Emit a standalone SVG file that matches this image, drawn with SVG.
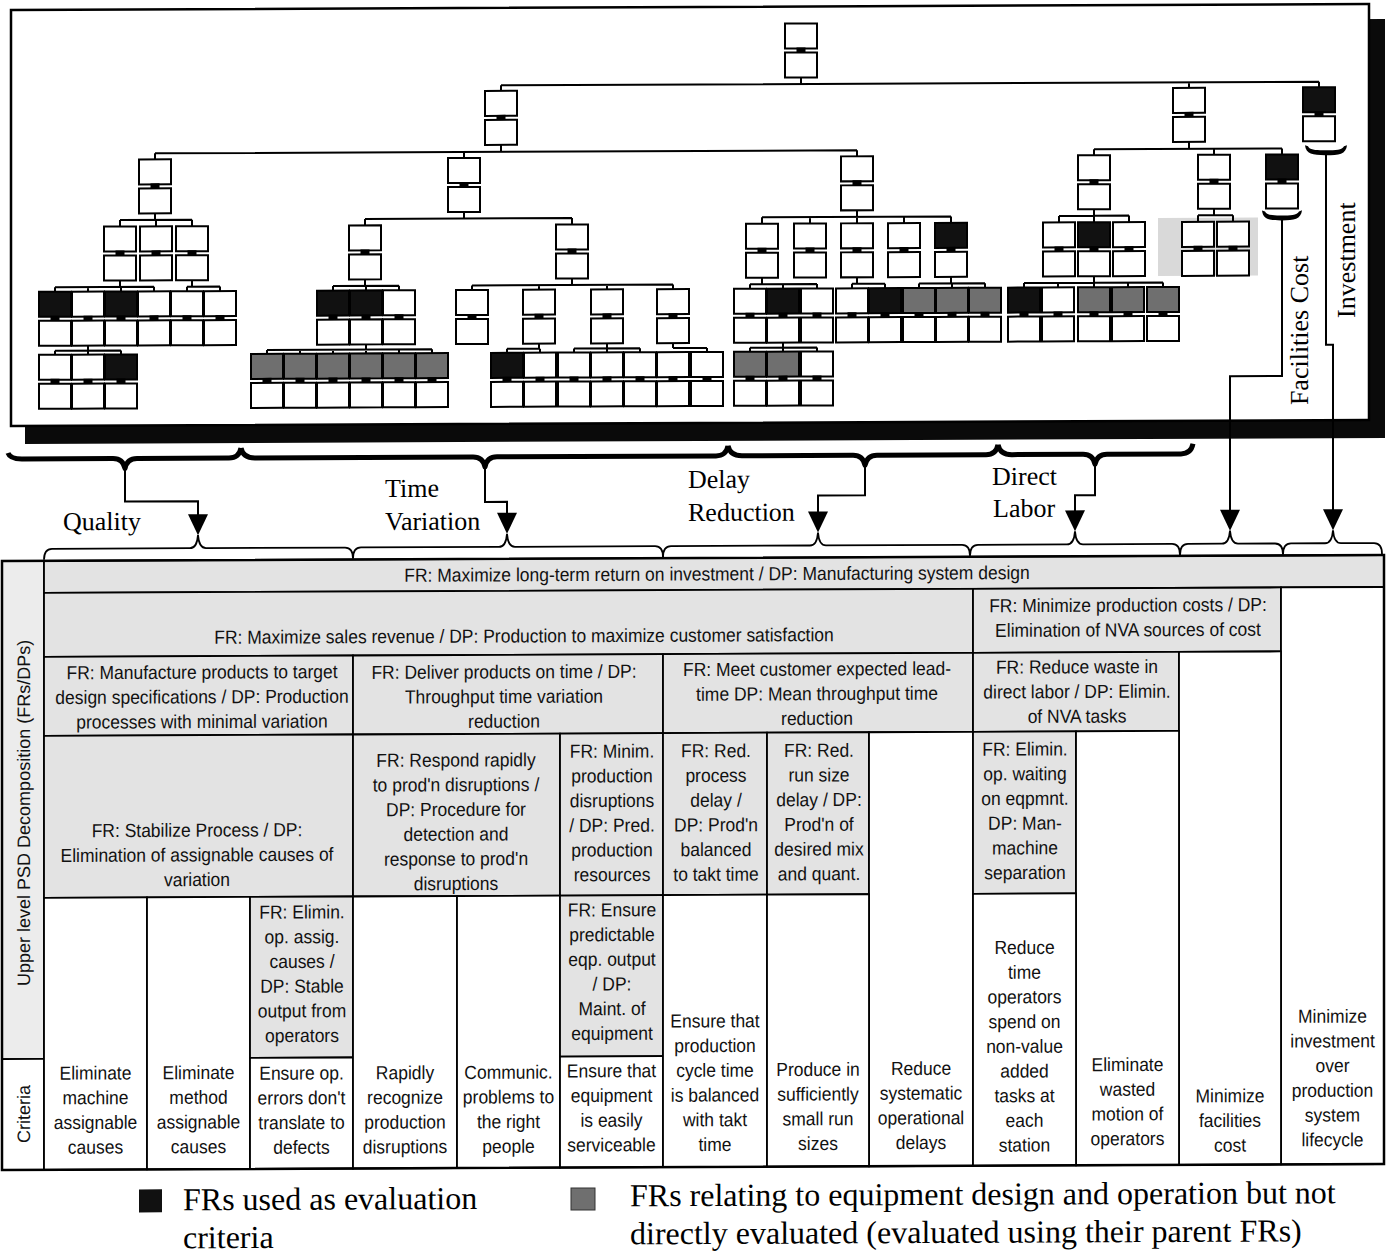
<svg xmlns="http://www.w3.org/2000/svg" xmlns:xlink="http://www.w3.org/1999/xlink" width="1395" height="1256" viewBox="0 0 1395 1256">
  <style>
    .b{fill:#fff;stroke:#000;stroke-width:2}
    .fk{fill:#111}
    .fg{fill:#6f6f6f}
    .k{fill:#000}
    .ln{fill:none;stroke:#000;stroke-width:2}
    .br{fill:none;stroke:#000;stroke-width:5;stroke-linejoin:round}
    .bl{fill:none;stroke:#000;stroke-width:1.8}
    .cg{fill:#e3e3e3;stroke:#000;stroke-width:1.8}
    .cl{fill:#ececec;stroke:#000;stroke-width:1.8}
    .cw{fill:#fff;stroke:#000;stroke-width:1.8}
    .t{font-family:'Liberation Sans',Arial,sans-serif;font-size:19px;fill:#111;text-anchor:middle}
    .side{font-family:'Liberation Sans',Arial,sans-serif;font-size:18px;fill:#111;text-anchor:middle}
    .lbl{font-family:'Liberation Serif','Times New Roman',serif;font-size:26px;fill:#000}
    .leg{font-family:'Liberation Serif','Times New Roman',serif;font-size:32px;fill:#000}
  </style>
  <defs>
    <!-- FR box over DP box, joined by a short bar -->
    <g id="nw"><rect class="b" x="-16" y="0" width="32" height="25"/><rect class="k" x="-4.5" y="24" width="9" height="6"/><rect class="b" x="-16" y="29" width="32" height="25"/></g>
    <g id="nk"><rect class="b fk" x="-16" y="0" width="32" height="25"/><rect class="k" x="-4.5" y="24" width="9" height="6"/><rect class="b" x="-16" y="29" width="32" height="25"/></g>
    <g id="ng"><rect class="b fg" x="-16" y="0" width="32" height="25"/><rect class="k" x="-4.5" y="24" width="9" height="6"/><rect class="b" x="-16" y="29" width="32" height="25"/></g>
  </defs>
  <rect x="0" y="0" width="1395" height="1256" fill="#fff"/>
  <g transform="matrix(1 -0.00436 0 1 0 3.04)">
    <!-- hierarchy panel with drop shadow -->
    <rect x="25" y="22" width="1360" height="419" fill="#0a0a0a"/>
    <rect x="11" y="7" width="1358" height="416" fill="#fff" stroke="#000" stroke-width="2.5"/>
    <rect x="1158" y="220" width="100" height="58" fill="#d9d9d9"/>

    <g id="connectors">
      <path class="ln" d="M801,78V84.5M501,84.5H1319M501,84.5V90M1189,84.5V90M1319,84.5V90"/>
      <path class="ln" d="M501,144V151M155,151H857M155,151V157M464,151V157M857,151V157"/>
      <path class="ln" d="M1189,144V151M1094,151H1282M1094,151V157M1214,151V157M1282,151V157"/>
      <path class="ln" d="M155,211V217.5M120,217.5H192M120,217.5V224M156,217.5V224M192,217.5V224"/>
      <path class="ln" d="M464,211V217.5M365,217.5H572M365,217.5V224M572,217.5V224"/>
      <path class="ln" d="M857,211V217.5M762,217.5H951M762,217.5V224M810,217.5V224M857,217.5V224M904,217.5V224M951,217.5V224"/>
      <path class="ln" d="M1094,211V217.5M1059,217.5H1129M1059,217.5V224M1094,217.5V224M1129,217.5V224"/>
      <path class="ln" d="M1214,211V217.5M1198,217.5H1233M1198,217.5V224M1233,217.5V224"/>
      <path class="ln" d="M120,278V284.5M55,284.5H154M55,284.5V289M88,284.5V289M121,284.5V289M154,284.5V289"/>
      <path class="ln" d="M192,278V284.5M187,284.5H220M187,284.5V289M220,284.5V289"/>
      <path class="ln" d="M365,278V284.5M333,284.5H399M333,284.5V289M366,284.5V289M399,284.5V289"/>
      <path class="ln" d="M572,278V284.5M472,284.5H673M472,284.5V289M539,284.5V289M607,284.5V289M673,284.5V289"/>
      <path class="ln" d="M762,278V284.5M750,284.5H817M750,284.5V289M783,284.5V289M817,284.5V289"/>
      <path class="ln" d="M857,278V284.5M852,284.5H885M852,284.5V289M885,284.5V289"/>
      <path class="ln" d="M951,278V284.5M919,284.5H985M919,284.5V289M952,284.5V289M985,284.5V289"/>
      <path class="ln" d="M1094,278V284.5M1024,284.5H1163M1024,284.5V289M1058,284.5V289M1094,284.5V289M1128,284.5V289M1163,284.5V289"/>
      <path class="ln" d="M88,343V348M55,348H121M55,348V352M88,348V352M121,348V352"/>
      <path class="ln" d="M366,343V348M267,348H432M267,348V352M300,348V352M333,348V352M366,348V352M399,348V352M432,348V352"/>
      <path class="ln" d="M539,343V348M507,348H540M507,348V352M540,348V352"/>
      <path class="ln" d="M607,343V348M574,348H640M574,348V352M607,348V352M640,348V352"/>
      <path class="ln" d="M673,343V348M673,348H707M707,348V352"/>
      <path class="ln" d="M783,343V348M750,348H817M750,348V352M783,348V352M817,348V352"/>
      <!-- cost branches leaving the panel -->
      <path class="k" d="M1262,213C1263,222 1270,223 1282,223C1294,223 1301,222 1302,213L1299,214C1297,218 1290,218 1282,218C1274,218 1267,218 1265,214Z"/>
      <path class="k" d="M1305,148C1306,157 1313,158 1326,158C1339,158 1346,157 1347,148L1344,149C1342,153 1336,153 1326,153C1316,153 1310,153 1308,149Z"/>
      <path class="ln" d="M1282,222V378.5H1230V514"/>
      <path class="ln" d="M1326,157V347.5H1333V514"/>
      <!-- group braces -->
      <path class="br" d="M8,450Q10,456 22,456L113,456Q123,456 125,466Q127,456 137,456L229,456Q239,456 241,446"/>
      <path class="br" d="M241,446Q243,456 255,456L473,456Q483,456 485,466Q487,456 497,456L716,456Q726,456 728,446"/>
      <path class="br" d="M728,446Q730,456 742,456L853,456Q863,456 865,466Q867,456 877,456L986,456Q996,456 998,446"/>
      <path class="br" d="M998,446Q1000,456 1012,456L1083,456Q1093,456 1095,466Q1097,456 1107,456L1181,456Q1191,456 1193,446"/>
      <path class="ln" d="M125,466V499H198V514"/>
      <path class="ln" d="M485,466V501H507V514"/>
      <path class="ln" d="M865,466V496H818V514"/>
      <path class="ln" d="M1095,466V497H1075V514"/>
      <polygon class="k" points="188,512 208,512 198,533"/>
      <polygon class="k" points="497,512 517,512 507,533"/>
      <polygon class="k" points="808,512 828,512 818,533"/>
      <polygon class="k" points="1065,512 1085,512 1075,533"/>
      <polygon class="k" points="1220,512 1240,512 1230,533"/>
      <polygon class="k" points="1323,512 1343,512 1333,533"/>
      <path class="bl" d="M44,557Q44,546 52,546L190,546Q197,546 198,533Q199,546 206,546L345,546Q353,546 353,557"/>
      <path class="bl" d="M353,557Q353,546 361,546L499,546Q506,546 507,533Q508,546 515,546L655,546Q663,546 663,557"/>
      <path class="bl" d="M663,557Q663,546 671,546L810,546Q817,546 818,533Q819,546 826,546L962,546Q970,546 970,557"/>
      <path class="bl" d="M970,557Q970,546 978,546L1067,546Q1074,546 1075,533Q1076,546 1083,546L1172,546Q1180,546 1180,557"/>
      <path class="bl" d="M1180,557Q1180,546 1188,546L1222,546Q1229,546 1230,533Q1231,546 1238,546L1275,546Q1283,546 1283,557"/>
      <path class="bl" d="M1283,557Q1283,546 1291,546L1325,546Q1332,546 1333,533Q1334,546 1341,546L1374,546Q1382,546 1382,557"/>
    </g>

    <!-- functional requirement / design parameter nodes -->
    <g id="n-root" transform="translate(801 24)"><use href="#nw"/></g>
    <g id="n-sales" transform="translate(501 90)"><use href="#nw"/></g>
    <g id="n-cost" transform="translate(1189 90)"><use href="#nw"/></g>
    <g id="n-invest" transform="translate(1319 90)"><use href="#nk"/></g>
    <g id="n-quality" transform="translate(155 157)"><use href="#nw"/></g>
    <g id="n-timevar" transform="translate(464 157)"><use href="#nw"/></g>
    <g id="n-delay" transform="translate(857 157)"><use href="#nw"/></g>
    <g id="n-labor" transform="translate(1094 157)"><use href="#nw"/></g>
    <g id="n-waste" transform="translate(1214 157)"><use href="#nw"/></g>
    <g id="n-facil" transform="translate(1282 157)"><use href="#nk"/></g>
    <g id="n-q1" transform="translate(120 224)"><use href="#nw"/></g>
    <g id="n-q2" transform="translate(156 224)"><use href="#nw"/></g>
    <g id="n-q3" transform="translate(192 224)"><use href="#nw"/></g>
    <g id="n-t1" transform="translate(365 224)"><use href="#nw"/></g>
    <g id="n-t2" transform="translate(572 224)"><use href="#nw"/></g>
    <g id="n-d1" transform="translate(762 224)"><use href="#nw"/></g>
    <g id="n-d2" transform="translate(810 224)"><use href="#nw"/></g>
    <g id="n-d3" transform="translate(857 224)"><use href="#nw"/></g>
    <g id="n-d4" transform="translate(904 224)"><use href="#nw"/></g>
    <g id="n-d5" transform="translate(951 224)"><use href="#nk"/></g>
    <g id="n-l1" transform="translate(1059 224)"><use href="#nw"/></g>
    <g id="n-l2" transform="translate(1094 224)"><use href="#nk"/></g>
    <g id="n-l3" transform="translate(1129 224)"><use href="#nw"/></g>
    <g id="n-w1" transform="translate(1198 224)"><use href="#nw"/></g>
    <g id="n-w2" transform="translate(1233 224)"><use href="#nw"/></g>
    <g id="n-q11" transform="translate(55 289)"><use href="#nk"/></g>
    <g id="n-q12" transform="translate(88 289)"><use href="#nw"/></g>
    <g id="n-q13" transform="translate(121 289)"><use href="#nk"/></g>
    <g id="n-q14" transform="translate(154 289)"><use href="#nw"/></g>
    <g id="n-q31" transform="translate(187 289)"><use href="#nw"/></g>
    <g id="n-q32" transform="translate(220 289)"><use href="#nw"/></g>
    <g id="n-t11" transform="translate(333 289)"><use href="#nk"/></g>
    <g id="n-t12" transform="translate(366 289)"><use href="#nk"/></g>
    <g id="n-t13" transform="translate(399 289)"><use href="#nw"/></g>
    <g id="n-t21" transform="translate(472 289)"><use href="#nw"/></g>
    <g id="n-t22" transform="translate(539 289)"><use href="#nw"/></g>
    <g id="n-t23" transform="translate(607 289)"><use href="#nw"/></g>
    <g id="n-t24" transform="translate(673 289)"><use href="#nw"/></g>
    <g id="n-d11" transform="translate(750 289)"><use href="#nw"/></g>
    <g id="n-d12" transform="translate(783 289)"><use href="#nk"/></g>
    <g id="n-d13" transform="translate(817 289)"><use href="#nw"/></g>
    <g id="n-d31" transform="translate(852 289)"><use href="#nw"/></g>
    <g id="n-d32" transform="translate(885 289)"><use href="#nk"/></g>
    <g id="n-d51" transform="translate(919 289)"><use href="#ng"/></g>
    <g id="n-d52" transform="translate(952 289)"><use href="#ng"/></g>
    <g id="n-d53" transform="translate(985 289)"><use href="#ng"/></g>
    <g id="n-l21" transform="translate(1024 289)"><use href="#nk"/></g>
    <g id="n-l22" transform="translate(1058 289)"><use href="#nw"/></g>
    <g id="n-l23" transform="translate(1094 289)"><use href="#ng"/></g>
    <g id="n-l24" transform="translate(1128 289)"><use href="#ng"/></g>
    <g id="n-l25" transform="translate(1163 289)"><use href="#ng"/></g>
    <g id="n-q121" transform="translate(55 352)"><use href="#nw"/></g>
    <g id="n-q122" transform="translate(88 352)"><use href="#nw"/></g>
    <g id="n-q123" transform="translate(121 352)"><use href="#nk"/></g>
    <g id="n-t121" transform="translate(267 352)"><use href="#ng"/></g>
    <g id="n-t122" transform="translate(300 352)"><use href="#ng"/></g>
    <g id="n-t123" transform="translate(333 352)"><use href="#ng"/></g>
    <g id="n-t124" transform="translate(366 352)"><use href="#ng"/></g>
    <g id="n-t125" transform="translate(399 352)"><use href="#ng"/></g>
    <g id="n-t126" transform="translate(432 352)"><use href="#ng"/></g>
    <g id="n-t221" transform="translate(507 352)"><use href="#nk"/></g>
    <g id="n-t222" transform="translate(540 352)"><use href="#nw"/></g>
    <g id="n-t231" transform="translate(574 352)"><use href="#nw"/></g>
    <g id="n-t232" transform="translate(607 352)"><use href="#nw"/></g>
    <g id="n-t233" transform="translate(640 352)"><use href="#nw"/></g>
    <g id="n-t241" transform="translate(673 352)"><use href="#nw"/></g>
    <g id="n-t242" transform="translate(707 352)"><use href="#nw"/></g>
    <g id="n-d121" transform="translate(750 352)"><use href="#ng"/></g>
    <g id="n-d122" transform="translate(783 352)"><use href="#ng"/></g>
    <g id="n-d123" transform="translate(817 352)"><use href="#nw"/></g>

    <!-- branch labels -->
    <g id="labels">
      <text class="lbl" transform="translate(1308 333) rotate(-90)" text-anchor="middle">Facilities Cost</text>
      <text class="lbl" transform="translate(1355 263) rotate(-90)" text-anchor="middle">Investment</text>
      <text class="lbl" x="63" y="527.5">Quality</text>
      <text class="lbl" x="385" y="495.7">Time</text>
      <text class="lbl" x="385" y="528.7">Variation</text>
      <text class="lbl" x="688" y="488">Delay</text>
      <text class="lbl" x="688" y="521">Reduction</text>
      <text class="lbl" x="992" y="486.3">Direct</text>
      <text class="lbl" x="993" y="518.3">Labor</text>
    </g>

    <!-- decomposition table -->
    <g id="table">
      <rect class="cl" x="2" y="558" width="42" height="498"/>
      <rect class="cw" x="2" y="1056" width="42" height="111"/>
      <rect class="cg" x="44" y="558" width="1340" height="32"/>
      <rect class="cg" x="44" y="590" width="929" height="64"/>
      <rect class="cg" x="973" y="590" width="308" height="64"/>
      <rect class="cw" x="1281" y="590" width="103" height="577"/>
      <rect class="cg" x="44" y="654" width="309" height="79"/>
      <rect class="cg" x="353" y="654" width="310" height="79"/>
      <rect class="cg" x="663" y="654" width="310" height="79"/>
      <rect class="cg" x="973" y="654" width="206" height="79"/>
      <rect class="cw" x="1179" y="654" width="102" height="513"/>
      <rect class="cg" x="44" y="733" width="309" height="162"/>
      <rect class="cg" x="353" y="733" width="207" height="162"/>
      <rect class="cg" x="560" y="733" width="103" height="162"/>
      <rect class="cg" x="663" y="733" width="104" height="162"/>
      <rect class="cg" x="767" y="733" width="102" height="162"/>
      <rect class="cw" x="869" y="733" width="104" height="434"/>
      <rect class="cg" x="973" y="733" width="103" height="162"/>
      <rect class="cw" x="1076" y="733" width="103" height="434"/>
      <rect class="cw" x="44" y="895" width="103" height="272"/>
      <rect class="cw" x="147" y="895" width="103" height="272"/>
      <rect class="cg" x="250" y="895" width="103" height="161"/>
      <rect class="cw" x="250" y="1056" width="103" height="111"/>
      <rect class="cw" x="353" y="895" width="104" height="272"/>
      <rect class="cw" x="457" y="895" width="103" height="272"/>
      <rect class="cg" x="560" y="895" width="103" height="161"/>
      <rect class="cw" x="560" y="1056" width="103" height="111"/>
      <rect class="cw" x="663" y="895" width="104" height="272"/>
      <rect class="cw" x="767" y="895" width="102" height="272"/>
      <rect class="cw" x="973" y="895" width="103" height="272"/>
      <rect x="2" y="558" width="1382" height="609" fill="none" stroke="#000" stroke-width="2.5"/>

      <text class="side" transform="translate(30 810) rotate(-90)">Upper level PSD Decomposition (FRs/DPs)</text>
      <text class="side" transform="translate(30 1111) rotate(-90)">Criteria</text>

      <!-- condensed cell text: each block is placed by translate, then narrowed -->
      <text class="t" transform="translate(717 0) scale(0.92 1)" x="0" y="580.5">FR: Maximize long-term return on investment / DP: Manufacturing system design</text>
      <text class="t" transform="translate(524 0) scale(0.92 1)" x="0" y="641.7">FR: Maximize sales revenue / DP: Production to maximize customer satisfaction</text>
      <text class="t" transform="translate(1128 0) scale(0.92 1)" y="613.5"><tspan x="0">FR: Minimize production costs / DP:</tspan><tspan x="0" dy="24.7">Elimination of NVA sources of cost</tspan></text>

      <text class="t" transform="translate(202 0) scale(0.92 1)" y="676.5"><tspan x="0">FR: Manufacture products to target</tspan><tspan x="0" dy="24.7">design specifications / DP: Production</tspan><tspan x="0" dy="24.7">processes with minimal variation</tspan></text>
      <text class="t" transform="translate(504 0) scale(0.92 1)" y="677.5"><tspan x="0">FR: Deliver products on time / DP:</tspan><tspan x="0" dy="24.7">Throughput time variation</tspan><tspan x="0" dy="24.7">reduction</tspan></text>
      <text class="t" transform="translate(817 0) scale(0.92 1)" y="676"><tspan x="0">FR: Meet customer expected lead-</tspan><tspan x="0" dy="24.7">time DP: Mean throughput time</tspan><tspan x="0" dy="24.7">reduction</tspan></text>
      <text class="t" transform="translate(1077 0) scale(0.92 1)" y="675"><tspan x="0">FR: Reduce waste in</tspan><tspan x="0" dy="24.7">direct labor / DP: Elimin.</tspan><tspan x="0" dy="24.7">of NVA tasks</tspan></text>

      <text class="t" transform="translate(197 0) scale(0.92 1)" y="834.5"><tspan x="0">FR: Stabilize Process / DP:</tspan><tspan x="0" dy="24.7">Elimination of assignable causes of</tspan><tspan x="0" dy="24.7">variation</tspan></text>
      <text class="t" transform="translate(456 0) scale(0.92 1)" y="765.5"><tspan x="0">FR: Respond rapidly</tspan><tspan x="0" dy="24.7">to prod'n disruptions /</tspan><tspan x="0" dy="24.7">DP: Procedure for</tspan><tspan x="0" dy="24.7">detection and</tspan><tspan x="0" dy="24.7">response to prod'n</tspan><tspan x="0" dy="24.7">disruptions</tspan></text>
      <text class="t" transform="translate(612 0) scale(0.92 1)" y="757.3"><tspan x="0">FR: Minim.</tspan><tspan x="0" dy="24.7">production</tspan><tspan x="0" dy="24.7">disruptions</tspan><tspan x="0" dy="24.7">/ DP: Pred.</tspan><tspan x="0" dy="24.7">production</tspan><tspan x="0" dy="24.7">resources</tspan></text>
      <text class="t" transform="translate(716 0) scale(0.92 1)" y="757.3"><tspan x="0">FR: Red.</tspan><tspan x="0" dy="24.7">process</tspan><tspan x="0" dy="24.7">delay  /</tspan><tspan x="0" dy="24.7">DP: Prod'n</tspan><tspan x="0" dy="24.7">balanced</tspan><tspan x="0" dy="24.7">to takt time</tspan></text>
      <text class="t" transform="translate(819 0) scale(0.92 1)" y="757.3"><tspan x="0">FR: Red.</tspan><tspan x="0" dy="24.7">run size</tspan><tspan x="0" dy="24.7">delay / DP:</tspan><tspan x="0" dy="24.7">Prod'n of</tspan><tspan x="0" dy="24.7">desired mix</tspan><tspan x="0" dy="24.7">and quant.</tspan></text>
      <text class="t" transform="translate(1025 0) scale(0.92 1)" y="757"><tspan x="0">FR: Elimin.</tspan><tspan x="0" dy="24.7">op. waiting</tspan><tspan x="0" dy="24.7">on eqpmnt.</tspan><tspan x="0" dy="24.7">DP: Man-</tspan><tspan x="0" dy="24.7">machine</tspan><tspan x="0" dy="24.7">separation</tspan></text>

      <text class="t" transform="translate(302 0) scale(0.92 1)" y="916.8"><tspan x="0">FR: Elimin.</tspan><tspan x="0" dy="24.7">op. assig.</tspan><tspan x="0" dy="24.7">causes /</tspan><tspan x="0" dy="24.7">DP: Stable</tspan><tspan x="0" dy="24.7">output from</tspan><tspan x="0" dy="24.7">operators</tspan></text>
      <text class="t" transform="translate(612 0) scale(0.92 1)" y="916"><tspan x="0">FR: Ensure</tspan><tspan x="0" dy="24.7">predictable</tspan><tspan x="0" dy="24.7">eqp. output</tspan><tspan x="0" dy="24.7">/ DP:</tspan><tspan x="0" dy="24.7">Maint. of</tspan><tspan x="0" dy="24.7">equipment</tspan></text>

      <!-- evaluation criteria -->
      <text class="t" transform="translate(95.5 0) scale(0.92 1)" y="1076.9"><tspan x="0">Eliminate</tspan><tspan x="0" dy="24.7">machine</tspan><tspan x="0" dy="24.7">assignable</tspan><tspan x="0" dy="24.7">causes</tspan></text>
      <text class="t" transform="translate(198.5 0) scale(0.92 1)" y="1076.9"><tspan x="0">Eliminate</tspan><tspan x="0" dy="24.7">method</tspan><tspan x="0" dy="24.7">assignable</tspan><tspan x="0" dy="24.7">causes</tspan></text>
      <text class="t" transform="translate(301.5 0) scale(0.92 1)" y="1077.9"><tspan x="0">Ensure op.</tspan><tspan x="0" dy="24.7">errors don't</tspan><tspan x="0" dy="24.7">translate to</tspan><tspan x="0" dy="24.7">defects</tspan></text>
      <text class="t" transform="translate(405 0) scale(0.92 1)" y="1077.9"><tspan x="0">Rapidly</tspan><tspan x="0" dy="24.7">recognize</tspan><tspan x="0" dy="24.7">production</tspan><tspan x="0" dy="24.7">disruptions</tspan></text>
      <text class="t" transform="translate(508.5 0) scale(0.92 1)" y="1077.9"><tspan x="0">Communic.</tspan><tspan x="0" dy="24.7">problems to</tspan><tspan x="0" dy="24.7">the right</tspan><tspan x="0" dy="24.7">people</tspan></text>
      <text class="t" transform="translate(611.5 0) scale(0.92 1)" y="1076.9"><tspan x="0">Ensure that</tspan><tspan x="0" dy="24.7">equipment</tspan><tspan x="0" dy="24.7">is easily</tspan><tspan x="0" dy="24.7">serviceable</tspan></text>
      <text class="t" transform="translate(715 0) scale(0.92 1)" y="1027.5"><tspan x="0">Ensure that</tspan><tspan x="0" dy="24.7">production</tspan><tspan x="0" dy="24.7">cycle time</tspan><tspan x="0" dy="24.7">is balanced</tspan><tspan x="0" dy="24.7">with takt</tspan><tspan x="0" dy="24.7">time</tspan></text>
      <text class="t" transform="translate(818 0) scale(0.92 1)" y="1076.4"><tspan x="0">Produce in</tspan><tspan x="0" dy="24.7">sufficiently</tspan><tspan x="0" dy="24.7">small run</tspan><tspan x="0" dy="24.7">sizes</tspan></text>
      <text class="t" transform="translate(921 0) scale(0.92 1)" y="1075.9"><tspan x="0">Reduce</tspan><tspan x="0" dy="24.7">systematic</tspan><tspan x="0" dy="24.7">operational</tspan><tspan x="0" dy="24.7">delays</tspan></text>
      <text class="t" transform="translate(1024.5 0) scale(0.92 1)" y="955.4"><tspan x="0">Reduce</tspan><tspan x="0" dy="24.7">time</tspan><tspan x="0" dy="24.7">operators</tspan><tspan x="0" dy="24.7">spend on</tspan><tspan x="0" dy="24.7">non-value</tspan><tspan x="0" dy="24.7">added</tspan><tspan x="0" dy="24.7">tasks at</tspan><tspan x="0" dy="24.7">each</tspan><tspan x="0" dy="24.7">station</tspan></text>
      <text class="t" transform="translate(1127.5 0) scale(0.92 1)" y="1072.9"><tspan x="0">Eliminate</tspan><tspan x="0" dy="24.7">wasted</tspan><tspan x="0" dy="24.7">motion of</tspan><tspan x="0" dy="24.7">operators</tspan></text>
      <text class="t" transform="translate(1230 0) scale(0.92 1)" y="1104.6"><tspan x="0">Minimize</tspan><tspan x="0" dy="24.7">facilities</tspan><tspan x="0" dy="24.7">cost</tspan></text>
      <text class="t" transform="translate(1332.5 0) scale(0.92 1)" y="1025.5"><tspan x="0">Minimize</tspan><tspan x="0" dy="24.7">investment</tspan><tspan x="0" dy="24.7">over</tspan><tspan x="0" dy="24.7">production</tspan><tspan x="0" dy="24.7">system</tspan><tspan x="0" dy="24.7">lifecycle</tspan></text>
    </g>

    <!-- legend -->
    <g id="legend">
      <rect x="139" y="1187" width="23" height="23" fill="#111"/>
      <text class="leg" x="183" y="1208">FRs used as evaluation</text>
      <text class="leg" x="183" y="1246">criteria</text>
      <rect x="571" y="1187.5" width="24" height="22" fill="#6f6f6f" stroke="#333" stroke-width="1"/>
      <text class="leg" x="630" y="1206">FRs relating to equipment design and operation but not</text>
      <text class="leg" x="630" y="1244">directly evaluated (evaluated using their parent FRs)</text>
    </g>
  </g>
</svg>
